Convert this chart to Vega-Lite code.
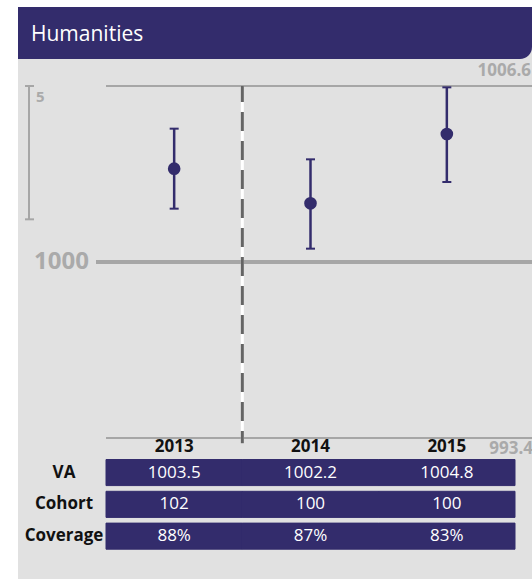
{
  "$schema": "https://vega.github.io/schema/vega-lite/v6.json",
  "width": 514,
  "height": 572,
  "autosize": "none",
  "padding": {"left": 18, "top": 7, "right": 0, "bottom": 0},
  "background": "white",
  "config": {"view": {"fill": "#e1e1e1", "stroke": null}, "font": "Open Sans"},
  "datasets": {
    "va": [
      {"year": 2013, "va": 1003.5, "lo": 1002.0, "hi": 1005.0},
      {"year": 2014, "va": 1002.2, "lo": 1000.5, "hi": 1003.85},
      {"year": 2015, "va": 1004.8, "lo": 1003.0, "hi": 1006.55}
    ],
    "table": [
      {"year": 2013, "row": "VA", "text": "1003.5"},
      {"year": 2014, "row": "VA", "text": "1002.2"},
      {"year": 2015, "row": "VA", "text": "1004.8"},
      {"year": 2013, "row": "Cohort", "text": "102"},
      {"year": 2014, "row": "Cohort", "text": "100"},
      {"year": 2015, "row": "Cohort", "text": "100"},
      {"year": 2013, "row": "Coverage", "text": "88%"},
      {"year": 2014, "row": "Coverage", "text": "87%"},
      {"year": 2015, "row": "Coverage", "text": "83%"}
    ],
    "rows": [{"row": "VA"}, {"row": "Cohort"}, {"row": "Coverage"}],
    "one": [{"t": "Humanities"}]
  },
  "layer": [
    {
      "layer": [
        {
          "data": {"name": "one"},
          "mark": {"type": "rect", "fill": "#332c6c", "cornerRadiusBottomRight": 12},
          "encoding": {"x": {"value": 0}, "x2": {"value": 514}, "y": {"value": 0}, "y2": {"value": 52}}
        },
        {
          "data": {"name": "one"},
          "mark": {"type": "text", "align": "left", "baseline": "middle", "fontSize": 21, "color": "white"},
          "encoding": {"text": {"field": "t"}, "x": {"value": 13}, "y": {"value": 28}}
        },
        {
          "data": {"values": [{"v": 1006.6}, {"v": 993.4}]},
          "mark": {"type": "rule", "color": "#a6a6a6", "strokeWidth": 2},
          "encoding": {
            "y": {"field": "v", "type": "quantitative", "axis": null, "scale": {"domain": [993.4, 1006.6], "range": [431, 79], "zero": false, "nice": false}},
            "x": {"value": 88}, "x2": {"value": 514}
          }
        },
        {
          "data": {"values": [{"v": 1000}]},
          "mark": {"type": "rule", "color": "#a6a6a6", "strokeWidth": 4},
          "encoding": {
            "y": {"field": "v", "type": "quantitative"},
            "x": {"value": 78}, "x2": {"value": 514}
          }
        },
        {
          "data": {"values": [{"v": 1000, "label": "1000"}]},
          "mark": {"type": "text", "align": "right", "baseline": "middle", "fontSize": 24, "fontWeight": "bold", "color": "#aaaaaa"},
          "encoding": {"y": {"field": "v", "type": "quantitative"}, "x": {"value": 71}, "text": {"field": "label"}}
        },
        {
          "data": {"values": [{"v": 1006.6, "label": "1006.6"}]},
          "mark": {"type": "text", "align": "right", "baseline": "middle", "dy": -15, "fontSize": 17, "fontWeight": "bold", "color": "#aaaaaa"},
          "encoding": {"y": {"field": "v", "type": "quantitative"}, "x": {"value": 513}, "text": {"field": "label"}}
        },
        {
          "data": {"values": [{"v": 993.4, "label": "993.4"}]},
          "mark": {"type": "text", "align": "right", "baseline": "middle", "dy": 11, "fontSize": 17, "fontWeight": "bold", "color": "#aaaaaa"},
          "encoding": {"y": {"field": "v", "type": "quantitative"}, "x": {"value": 515}, "text": {"field": "label"}}
        },
        {
          "data": {"values": [{"top": 1006.6, "bottom": 1001.6}]},
          "mark": {"type": "rule", "color": "#a6a6a6", "strokeWidth": 2},
          "encoding": {"y": {"field": "top", "type": "quantitative"}, "y2": {"field": "bottom"}, "x": {"value": 11}}
        },
        {
          "data": {"values": [{"v": 1006.6}, {"v": 1001.6}]},
          "mark": {"type": "rule", "color": "#a6a6a6", "strokeWidth": 2},
          "encoding": {"y": {"field": "v", "type": "quantitative"}, "x": {"value": 7}, "x2": {"value": 16}}
        },
        {
          "data": {"values": [{"v": 1006.6, "label": "5"}]},
          "mark": {"type": "text", "align": "left", "baseline": "middle", "dy": 11, "fontSize": 15, "fontWeight": "bold", "color": "#aaaaaa"},
          "encoding": {"y": {"field": "v", "type": "quantitative"}, "x": {"value": 18}, "text": {"field": "label"}}
        },
        {
          "data": {"values": [{"year": 2014, "top": 1006.6, "bottom": 993.2}]},
          "mark": {"type": "rule", "color": "white", "strokeWidth": 3},
          "encoding": {
            "x": {"field": "year", "type": "ordinal", "bandPosition": 0, "axis": null, "scale": {"type": "band", "range": [88, 497], "paddingInner": 0, "paddingOuter": 0, "domain": [2013, 2014, 2015]}},
            "y": {"field": "top", "type": "quantitative"}, "y2": {"field": "bottom"}
          }
        },
        {
          "data": {"values": [{"year": 2014, "top": 1006.6, "bottom": 993.2}]},
          "mark": {"type": "rule", "color": "#646464", "strokeWidth": 3, "strokeDash": [19, 10], "strokeDashOffset": 3},
          "encoding": {
            "x": {"field": "year", "type": "ordinal", "bandPosition": 0},
            "y": {"field": "top", "type": "quantitative"}, "y2": {"field": "bottom"}
          }
        },
        {
          "data": {"name": "va"},
          "mark": {"type": "rule", "color": "#332c6c", "strokeWidth": 2.5},
          "encoding": {
            "x": {"field": "year", "type": "ordinal"},
            "y": {"field": "lo", "type": "quantitative"}, "y2": {"field": "hi"}
          }
        },
        {
          "data": {"name": "va"},
          "mark": {"type": "tick", "color": "#332c6c", "orient": "horizontal", "size": 9, "thickness": 2, "opacity": 1},
          "encoding": {"x": {"field": "year", "type": "ordinal"}, "y": {"field": "lo", "type": "quantitative"}}
        },
        {
          "data": {"name": "va"},
          "mark": {"type": "tick", "color": "#332c6c", "orient": "horizontal", "size": 9, "thickness": 2, "opacity": 1},
          "encoding": {"x": {"field": "year", "type": "ordinal"}, "y": {"field": "hi", "type": "quantitative"}}
        },
        {
          "data": {"name": "va"},
          "mark": {"type": "circle", "color": "#332c6c", "size": 160, "opacity": 1},
          "encoding": {"x": {"field": "year", "type": "ordinal"}, "y": {"field": "va", "type": "quantitative"}}
        }
      ]
    },
    {
      "layer": [
        {
          "data": {"name": "va"},
          "mark": {"type": "text", "baseline": "middle", "fontSize": 17, "fontWeight": "bold", "color": "#111111"},
          "encoding": {"x": {"field": "year", "type": "ordinal"}, "y": {"value": 440}, "text": {"field": "year", "type": "ordinal"}}
        },
        {
          "data": {"name": "table"},
          "mark": {"type": "rect", "fill": "#332c6c", "stroke": "#332c6c", "strokeWidth": 1},
          "encoding": {
            "x": {"field": "year", "type": "ordinal"},
            "y": {"field": "row", "type": "nominal", "axis": null, "scale": {"type": "band", "domain": ["VA", "Cohort", "Coverage"], "range": [452.5, 542.2], "paddingInner": 0.18, "paddingOuter": 0}}
          }
        },
        {
          "data": {"name": "table"},
          "mark": {"type": "text", "baseline": "middle", "fontSize": 17, "color": "white"},
          "encoding": {"x": {"field": "year", "type": "ordinal"}, "y": {"field": "row", "type": "nominal"}, "text": {"field": "text"}}
        },
        {
          "data": {"name": "rows"},
          "mark": {"type": "text", "baseline": "middle", "fontSize": 17, "fontWeight": "bold", "color": "#111111"},
          "encoding": {"x": {"value": 46}, "y": {"field": "row", "type": "nominal"}, "text": {"field": "row"}}
        }
      ]
    }
  ],
  "resolve": {"scale": {"y": "independent"}}
}
